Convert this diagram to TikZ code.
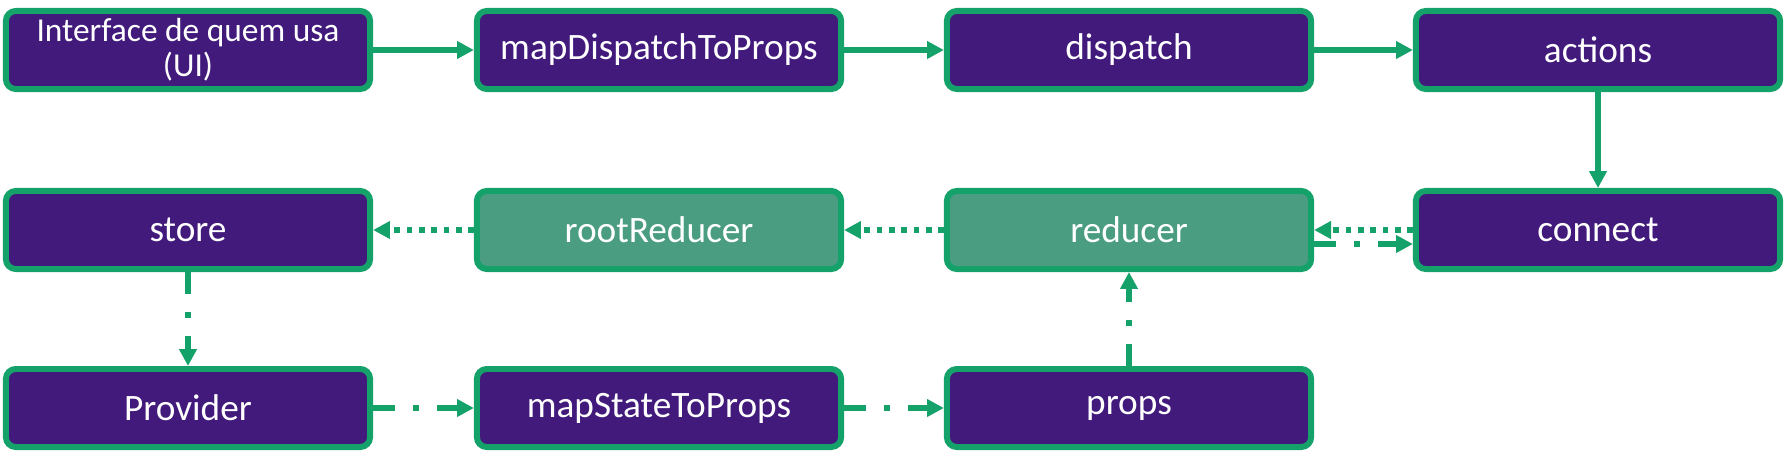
\documentclass[tikz,border=0pt]{standalone}
\usepackage{fontspec}
\setmainfont{Carlito}
\usetikzlibrary{arrows.meta}
\definecolor{roxo}{RGB}{66,26,124}
\definecolor{verde}{RGB}{21,161,106}
\definecolor{verdeclaro}{RGB}{74,157,128}

\begin{document}
\begin{tikzpicture}[x=0.01cm, y=-0.01cm,
  caixa/.style={draw=verde, line width=1.7pt, fill=roxo, rounded corners=2.8pt, text=white,
    minimum width=3.64cm, minimum height=0.78cm, inner sep=0pt, align=center,
    font=\fontsize{10.6}{12}\selectfont},
  caixaverde/.style={caixa, fill=verdeclaro},
  seta/.style={draw=verde, line width=1.6pt, -{Triangle[length=4.8pt,width=4.8pt]}},
  setaponto/.style={seta, dash pattern=on 1.6pt off 1.9pt},
  setatraco/.style={seta, dash pattern=on 6.3pt off 5.1pt on 1.7pt off 5.1pt}]
  \useasboundingbox (0,0) rectangle (1786,454);
  % linha de cima
  \node[caixa, font=\fontsize{9.5}{10}\selectfont] (ui) at (188,50) {Interface de quem usa\\(UI)};
  \node[caixa] (mapdispatch) at (659,50) {mapDispatchToProps};
  \node[caixa] (dispatch) at (1129,50) {dispatch};
  \node[caixa] (actions) at (1598,50) {actions};
  % linha do meio
  \node[caixa] (store) at (188,230) {store};
  \node[caixaverde] (rootreducer) at (659,230) {rootReducer};
  \node[caixaverde] (reducer) at (1129,230) {reducer};
  \node[caixa] (connect) at (1598,230) {connect};
  % linha de baixo
  \node[caixa] (provider) at (188,408) {Provider};
  \node[caixa] (mapstate) at (659,408) {mapStateToProps};
  \node[caixa] (props) at (1129,408) {props};

  \draw[seta] (ui) -- (mapdispatch);
  \draw[seta] (mapdispatch) -- (dispatch);
  \draw[seta] (dispatch) -- (actions);
  \draw[seta] (actions) -- (connect);
  \draw[setaponto] (connect) -- (reducer);
  \draw[setaponto] (reducer) -- (rootreducer);
  \draw[setaponto] (rootreducer) -- (store);
  \draw[setatraco] ([yshift=-0.14cm]reducer.east) -- ([yshift=-0.14cm]connect.west);
  \draw[setatraco] (store) -- (provider);
  \draw[setatraco] (provider) -- (mapstate);
  \draw[setatraco] (mapstate) -- (props);
  \draw[setatraco] (props) -- (reducer);
\end{tikzpicture}
\end{document}
